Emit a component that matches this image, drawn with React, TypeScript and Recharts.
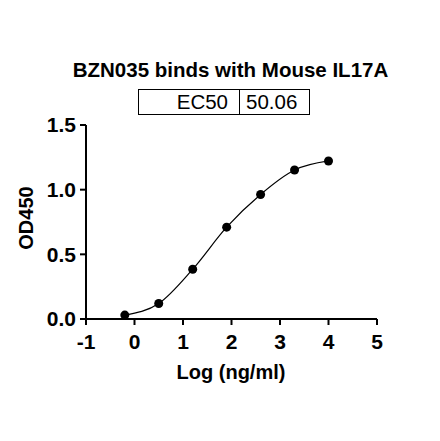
import { ComposedChart, Line, XAxis, YAxis } from "recharts";

// log concentration (ng/ml) vs OD450
const logConc = [-0.2, 0.5, 1.2, 1.9, 2.6, 3.3, 4.0];
const od450 = [0.03, 0.12, 0.385, 0.71, 0.963, 1.152, 1.222];

const xTicks = [-1, 0, 1, 2, 3, 4, 5];
const yTicks = [0, 0.5, 1.0, 1.5];

const ec50Label = "EC50";
const ec50Value = "50.06";

const FONT = "'Liberation Sans', Arial, sans-serif";

export default function App() {
  const data = logConc.map((x, i) => ({ x, y: od450[i] }));

  const tickStyle = { fontFamily: FONT, fontSize: 21, fontWeight: 700, fill: "#000" };

  return (
    <div style={{ position: "absolute", left: 0, top: 0, width: 440, height: 441, background: "#fff", fontFamily: FONT }}>
      {/* title */}
      <div
        style={{
          position: "absolute",
          left: 0,
          width: 461,
          top: 58,
          textAlign: "center",
          fontSize: 20.5,
          fontWeight: 700,
          lineHeight: "24px",
          color: "#000",
        }}
      >
        BZN035 binds with Mouse IL17A
      </div>

      {/* EC50 table */}
      <div
        style={{
          position: "absolute",
          left: 138,
          top: 89,
          width: 172,
          height: 26,
          border: "1.5px solid #000",
          boxSizing: "border-box",
          display: "flex",
          fontSize: 20.5,
          lineHeight: "23px",
          color: "#000",
        }}
      >
        <div style={{ width: 101, borderRight: "1.5px solid #000", textAlign: "right", paddingRight: 11, boxSizing: "border-box" }}>
          {ec50Label}
        </div>
        <div style={{ flex: 1, paddingLeft: 6 }}>{ec50Value}</div>
      </div>

      {/* y axis label */}
      <div
        style={{
          position: "absolute",
          left: 26,
          top: 218,
          transform: "translate(-50%, -50%) rotate(-90deg)",
          fontSize: 20,
          fontWeight: 700,
          whiteSpace: "nowrap",
          color: "#000",
        }}
      >
        OD450
      </div>

      {/* x axis label */}
      <div
        style={{
          position: "absolute",
          left: 231,
          top: 361,
          transform: "translateX(-50%)",
          fontSize: 20,
          fontWeight: 700,
          whiteSpace: "nowrap",
          color: "#000",
        }}
      >
        Log (ng/ml)
      </div>

      <ComposedChart
        width={440}
        height={441}
        data={data}
        margin={{ top: 125, right: 63, bottom: 62, left: 0 }}
        style={{ position: "absolute", left: 0, top: 0 }}
      >
        <XAxis
          dataKey="x"
          type="number"
          domain={[-1, 5]}
          ticks={xTicks}
          interval={0}
          height={60}
          tickSize={6}
          tickMargin={9}
          axisLine={{ stroke: "#000", strokeWidth: 2 }}
          tickLine={{ stroke: "#000", strokeWidth: 2 }}
          tick={tickStyle}
          allowDecimals={false}
        />
        <YAxis
          dataKey="y"
          type="number"
          domain={[0, 1.5]}
          ticks={yTicks}
          interval={0}
          width={86}
          tickSize={6}
          tickMargin={4}
          axisLine={{ stroke: "#000", strokeWidth: 2 }}
          tickLine={{ stroke: "#000", strokeWidth: 2 }}
          tick={tickStyle}
          tickFormatter={(v: number) => v.toFixed(1)}
        />
        <Line
          dataKey="y"
          type="monotone"
          stroke="#000"
          strokeWidth={1.2}
          dot={{ r: 4.5, fill: "#000", stroke: "#000", strokeWidth: 0 }}
          activeDot={false}
          isAnimationActive={false}
        />
      </ComposedChart>
    </div>
  );
}
